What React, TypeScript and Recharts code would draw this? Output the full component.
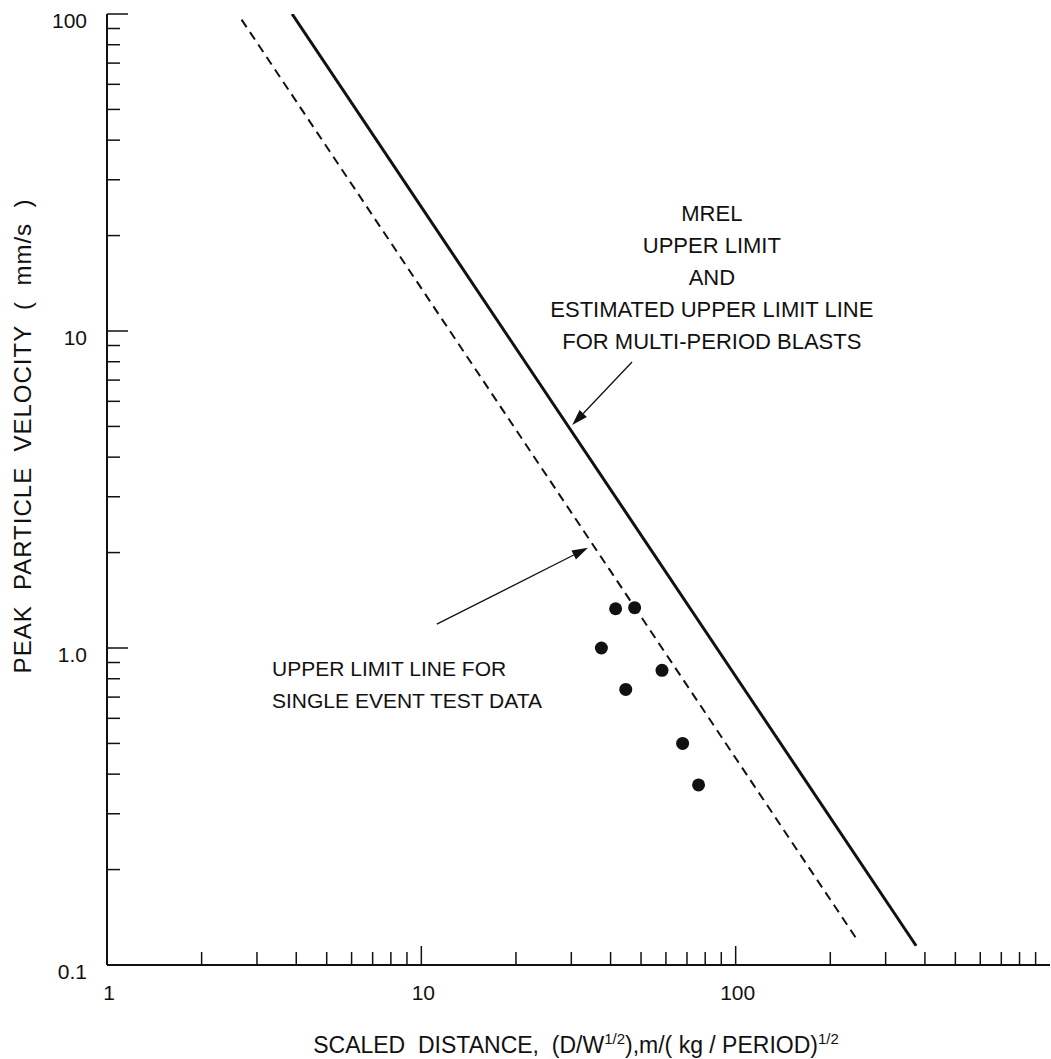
import React from 'react';
import {
  ComposedChart,
  XAxis,
  YAxis,
  Line,
  Scatter,
  ReferenceLine,
  ReferenceDot,
} from 'recharts';

const FONT = '"Liberation Sans", Arial, Helvetica, sans-serif';
const INK = '#111';

// Logarithmic tick positions (scaled distance axis)
const xTicks = [
  1, 2, 3, 4, 5, 6, 7, 8, 9,
  10, 20, 30, 40, 50, 60, 70, 80, 90,
  100, 200, 300, 400, 500, 600, 700, 800, 900,
];
const xMajorTicks = [10, 100];
const xTickLabels: Record<number, string> = { 1: '1', 10: '10', 100: '100' };

// Logarithmic tick positions (peak particle velocity axis)
const yTicks = [
  0.1, 0.2, 0.3, 0.4, 0.5, 0.6, 0.7, 0.8, 0.9,
  1, 2, 3, 4, 5, 6, 7, 8, 9,
  10, 20, 30, 40, 50, 60, 70, 80, 90,
  100,
];
const yMajorTicks = [1, 10, 100];
const yTickLabels: Record<number, string> = { 0.1: '0.1', 1: '1.0', 10: '10', 100: '100' };

// MREL upper limit / estimated upper limit for multi-period blasts
const mrelLimitLine = [
  { x: 3.88, y: 100 },
  { x: 375, y: 0.115 },
];

// Upper limit line for single event test data
const singleEventLimitLine = [
  { x: 2.68, y: 96 },
  { x: 241, y: 0.122 },
];

// Single event test results: scaled distance vs PPV (mm/s)
const testBlasts = [
  { x: 41.5, y: 1.33 },
  { x: 47.7, y: 1.34 },
  { x: 37.4, y: 1.0 },
  { x: 58.3, y: 0.85 },
  { x: 44.7, y: 0.74 },
  { x: 67.8, y: 0.5 },
  { x: 76.2, y: 0.37 },
];

// Annotation leaders (tail -> head), in data coordinates
const mrelArrow = [
  { x: 46.8, y: 7.98 },
  { x: 30.2, y: 5.05 },
];
const singleEventArrow = [
  { x: 11.2, y: 1.19 },
  { x: 33.9, y: 2.07 },
];

const mrelNoteAnchor = { x: 84, y: 22.2 };
const mrelNoteLines = [
  'MREL',
  'UPPER LIMIT',
  'AND',
  'ESTIMATED UPPER LIMIT LINE',
  'FOR MULTI-PERIOD BLASTS',
];
const singleNoteAnchor = { x: 3.35, y: 0.816 };
const singleNoteLines = ['UPPER LIMIT LINE FOR', 'SINGLE EVENT TEST DATA'];

const W = 1051;
const H = 1059;

function XTick(props: any) {
  const { x, y, payload } = props;
  const v = payload.value;
  const len = xMajorTicks.includes(v) ? 19 : 13;
  const label = xTickLabels[v];
  return (
    <g>
      {v !== 1 && (
        <line x1={x} y1={y} x2={x} y2={y - len} stroke={INK} strokeWidth={1.5} />
      )}
      {label && (
        <text
          x={x + 2}
          y={y + 35}
          textAnchor="middle"
          fontSize={21}
          fontFamily={FONT}
          fill={INK}
        >
          {label}
        </text>
      )}
    </g>
  );
}

function YTick(props: any) {
  const { x, y, payload } = props;
  const v = payload.value;
  const len = yMajorTicks.includes(v) ? 21 : 13;
  const label = yTickLabels[v];
  return (
    <g>
      {v !== 0.1 && (
        <line x1={x} y1={y} x2={x + len} y2={y} stroke={INK} strokeWidth={1.5} />
      )}
      {label && (
        <text
          x={x - 20}
          y={y + 14}
          textAnchor="end"
          fontSize={21}
          fontFamily={FONT}
          fill={INK}
        >
          {label}
        </text>
      )}
    </g>
  );
}

function arrowShape(props: any) {
  const { x1, y1, x2, y2 } = props;
  const ang = Math.atan2(y2 - y1, x2 - x1);
  const headLen = 16;
  const headHalf = 5;
  const bx = x2 - headLen * Math.cos(ang);
  const by = y2 - headLen * Math.sin(ang);
  const px = -Math.sin(ang) * headHalf;
  const py = Math.cos(ang) * headHalf;
  return (
    <g>
      <line x1={x1} y1={y1} x2={bx} y2={by} stroke={INK} strokeWidth={1.3} />
      <polygon
        points={`${x2},${y2} ${bx + px},${by + py} ${bx - px},${by - py}`}
        fill={INK}
      />
    </g>
  );
}

function noteShape(lines: string[], anchor: 'middle' | 'start', size: number) {
  return (props: any) => {
    const { cx, cy } = props;
    return (
      <text
        x={cx}
        y={cy}
        textAnchor={anchor}
        fontSize={size}
        fontFamily={FONT}
        fill={INK}
        style={{ whiteSpace: 'pre' }}
      >
        {lines.map((t, i) => (
          <tspan key={t} x={cx} dy={i === 0 ? 0 : 32}>
            {t}
          </tspan>
        ))}
      </text>
    );
  };
}

function DotShape(props: any) {
  const { cx, cy } = props;
  return <circle cx={cx} cy={cy} r={6.5} fill={INK} />;
}

export default function App() {
  return (
    <div style={{ position: 'absolute', left: 0, top: 0, width: W, height: H, background: '#fff' }}>
      <ComposedChart
        width={W}
        height={H}
        margin={{ top: 14, right: 1, bottom: 0, left: 0 }}
      >
        <XAxis
          dataKey="x"
          type="number"
          scale="log"
          domain={[1, 1000]}
          ticks={xTicks}
          interval={0}
          tickSize={0}
          tickMargin={0}
          tickLine={false}
          tick={<XTick />}
          height={94}
          axisLine={{ stroke: INK, strokeWidth: 2 }}
          allowDataOverflow
        />
        <YAxis
          dataKey="y"
          type="number"
          scale="log"
          domain={[0.1, 100]}
          ticks={yTicks}
          interval={0}
          tickSize={0}
          tickMargin={0}
          tickLine={false}
          tick={<YTick />}
          width={107}
          axisLine={{ stroke: INK, strokeWidth: 2 }}
          allowDataOverflow
        />
        <Line
          data={mrelLimitLine}
          dataKey="y"
          type="linear"
          stroke={INK}
          strokeWidth={3}
          dot={false}
          activeDot={false}
          isAnimationActive={false}
        />
        <Line
          data={singleEventLimitLine}
          dataKey="y"
          type="linear"
          stroke={INK}
          strokeWidth={2}
          strokeDasharray="9 6"
          dot={false}
          activeDot={false}
          isAnimationActive={false}
        />
        <Scatter
          data={testBlasts}
          dataKey="y"
          fill={INK}
          shape={<DotShape />}
          isAnimationActive={false}
        />
        <ReferenceLine segment={mrelArrow} shape={arrowShape} />
        <ReferenceLine segment={singleEventArrow} shape={arrowShape} />
        <ReferenceDot
          x={mrelNoteAnchor.x}
          y={mrelNoteAnchor.y}
          r={0}
          shape={noteShape(mrelNoteLines, 'middle', 22)}
        />
        <ReferenceDot
          x={singleNoteAnchor.x}
          y={singleNoteAnchor.y}
          r={0}
          shape={noteShape(singleNoteLines, 'start', 21)}
        />
      </ComposedChart>
      <svg
        width={W}
        height={H}
        style={{ position: 'absolute', left: 0, top: 0, pointerEvents: 'none' }}
      >
        <text
          transform="translate(31, 436) rotate(-90)"
          textAnchor="middle"
          fontSize={24}
          letterSpacing={1}
          fontFamily={FONT}
          fill={INK}
          style={{ whiteSpace: 'pre' }}
        >
          {'PEAK  PARTICLE  VELOCITY  (  mm/s  )'}
        </text>
        <text
          x={576}
          y={1053}
          textAnchor="middle"
          fontSize={23}
          fontFamily={FONT}
          fill={INK}
          style={{ whiteSpace: 'pre' }}
        >
          {'SCALED  DISTANCE,  (D/W'}
          <tspan dy={-9} fontSize={15}>1/2</tspan>
          <tspan dy={9}>{'),m/( kg / PERIOD)'}</tspan>
          <tspan dy={-9} fontSize={15}>1/2</tspan>
        </text>
      </svg>
    </div>
  );
}
